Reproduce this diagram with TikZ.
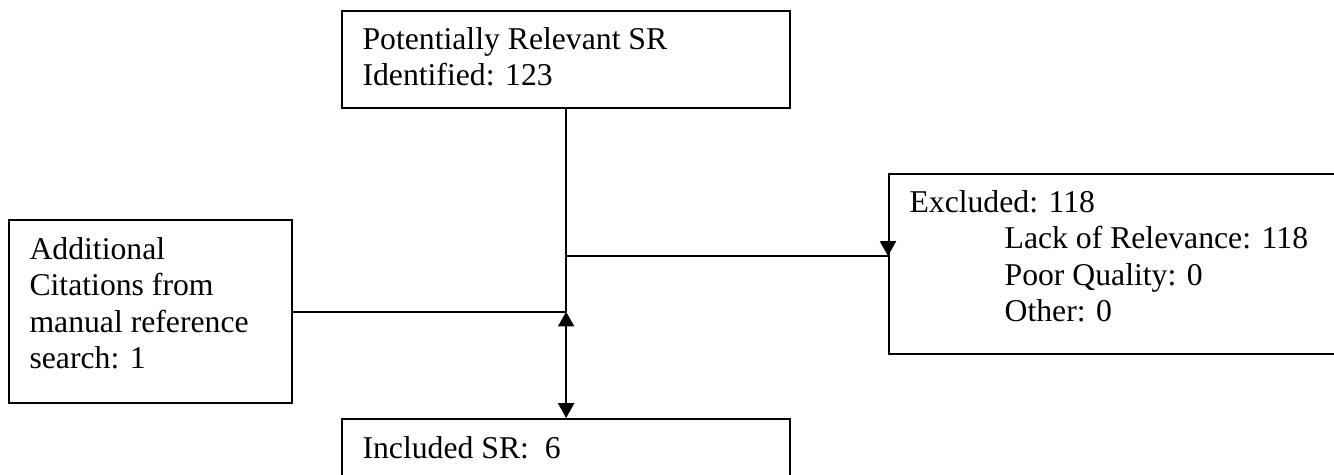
\documentclass[tikz,border=0pt]{standalone}
\usepackage{fontspec}
\setmainfont{Liberation Serif}
\usetikzlibrary{arrows.meta,calc}

\tikzset{
	box/.style={draw, line width=0.85pt, inner sep=0pt, anchor=north west},
	txt/.style={inner sep=0pt, anchor=north west, align=left, font=\fontsize{12}{13.8}\selectfont},
	link/.style={line width=0.85pt},
	head/.style={-{Triangle[width=6pt,length=5.6pt]}},
	heads/.style={{Triangle[width=6pt,length=5.6pt]}-{Triangle[width=6pt,length=5.6pt]}}
}

\begin{document}
\begin{tikzpicture}[x=0.3785pt, y=-0.3785pt]
	\useasboundingbox (0,0) rectangle (1334,474);
	
	\node[box, minimum width={448*0.3785pt}, minimum height={97*0.3785pt}] (top) at (341,10) {};
	\node[box, minimum width={283*0.3785pt}, minimum height={183*0.3785pt}] (add) at (8,219) {};
	\node[box, minimum width={452*0.3785pt}, minimum height={180*0.3785pt}] (ex) at (888,173) {};
	\node[box, minimum width={448*0.3785pt}, minimum height={62*0.3785pt}] (incl) at (341,418) {};
	
	\node[txt] (topt) at ($(top.north west)+(21,17)$) {Potentially Relevant SR\\Identified: 123};
	\node[txt] (addt) at ($(add.north west)+(21,18)$) {Additional\\Citations from\\manual reference\\search: 1};
	\node[txt] (ext) at ($(ex.north west)+(21,17)$) {Excluded: 118\\
		\hspace*{36pt}Lack of Relevance: 118\\
		\hspace*{36pt}Poor Quality: 0\\
		\hspace*{36pt}Other: 0};
	\node[txt] (inclt) at ($(incl.north west)+(21,18)$) {Included SR:\ \ 6};
	
	\coordinate (jn) at (top.south |- add.east);
	\coordinate (exin) at ($(ex.north west)+(0,83)$);
	\coordinate (br) at (top.south |- exin);
	
	\draw[link] (top.south) -- (jn);
	\draw[link] (br) -- (exin);
	\draw[link, head] ($(exin)+(0,-15)$) -- (exin);
	\draw[link] (add.east) -- (jn);
	\draw[link, heads] (jn) -- (incl.north);
\end{tikzpicture}
\end{document}
